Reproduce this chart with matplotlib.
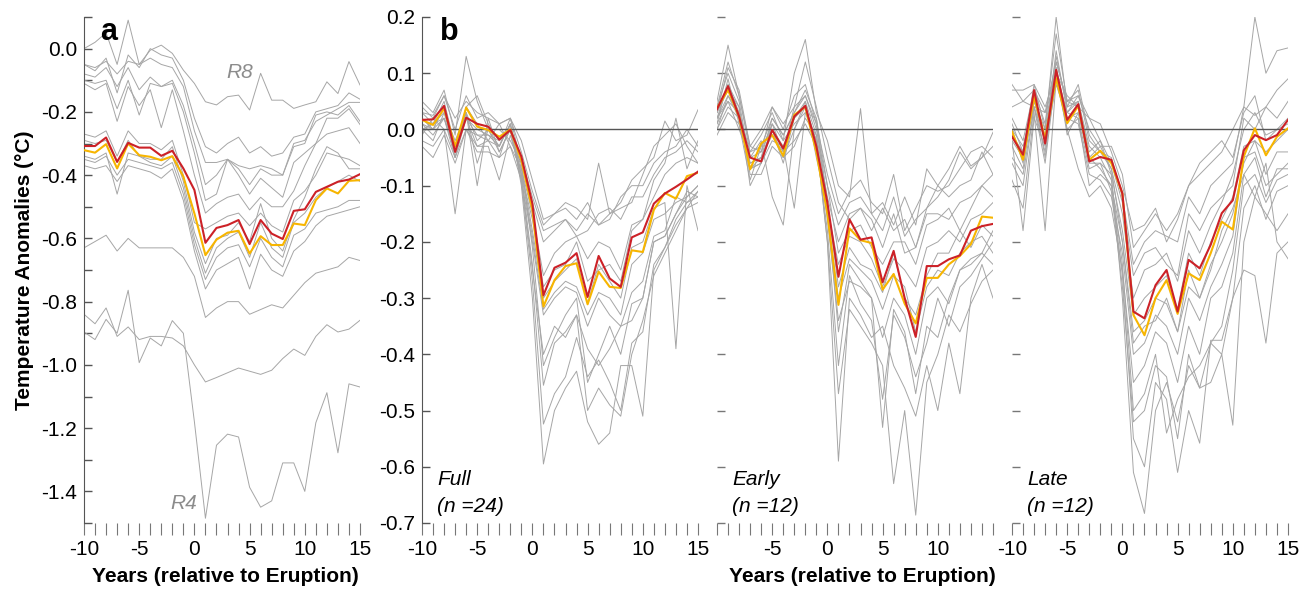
import numpy as np
import matplotlib
matplotlib.use("Agg")
import matplotlib.pyplot as plt
from matplotlib.ticker import MultipleLocator

plt.rcParams['font.family'] = ['Liberation Sans', 'DejaVu Sans']
plt.rcParams['axes.unicode_minus'] = False

years = list(range(-10, 16))

# ---- panel a: individual reconstructions (absolute anomalies) ----
a_grey = [
    [-0.00, 0.02, 0.05, -0.05, 0.09, -0.05, -0.005, 0.011, -0.015, -0.068, -0.11, -0.168, -0.178, -0.152, -0.147, -0.194, -0.078, -0.163, -0.163, -0.189, -0.178, -0.168, -0.105, -0.142, -0.041, -0.115],
    [-0.05, -0.07, -0.03, -0.14, -0.02, -0.06, 0.0, -0.02, -0.03, -0.10, -0.22, -0.31, -0.33, -0.30, -0.28, -0.33, -0.31, -0.34, -0.33, -0.28, -0.27, -0.20, -0.19, -0.18, -0.14, -0.16],
    [-0.08, -0.09, -0.06, -0.12, -0.06, -0.13, -0.09, -0.12, -0.10, -0.18, -0.30, -0.43, -0.40, -0.35, -0.38, -0.43, -0.38, -0.40, -0.40, -0.31, -0.30, -0.21, -0.20, -0.21, -0.18, -0.23],
    [-0.10, -0.11, -0.10, -0.19, -0.10, -0.21, -0.11, -0.12, -0.11, -0.20, -0.33, -0.48, -0.46, -0.35, -0.40, -0.46, -0.41, -0.44, -0.47, -0.36, -0.33, -0.30, -0.22, -0.22, -0.19, -0.24],
    [-0.11, -0.13, -0.11, -0.23, -0.12, -0.18, -0.13, -0.25, -0.13, -0.26, -0.40, -0.52, -0.49, -0.47, -0.46, -0.51, -0.47, -0.50, -0.50, -0.45, -0.37, -0.30, -0.27, -0.26, -0.25, -0.30],
    [-0.05, -0.06, -0.04, -0.08, -0.04, -0.05, -0.03, -0.05, -0.06, -0.12, -0.26, -0.36, -0.36, -0.35, -0.37, -0.38, -0.37, -0.38, -0.40, -0.30, -0.29, -0.23, -0.21, -0.19, -0.17, -0.17],
    [-0.27, -0.28, -0.26, -0.34, -0.26, -0.30, -0.30, -0.32, -0.29, -0.40, -0.55, -0.57, -0.55, -0.53, -0.52, -0.56, -0.52, -0.56, -0.58, -0.48, -0.45, -0.40, -0.33, -0.34, -0.35, -0.37],
    [-0.29, -0.30, -0.29, -0.36, -0.29, -0.34, -0.35, -0.35, -0.31, -0.42, -0.58, -0.68, -0.60, -0.59, -0.55, -0.61, -0.49, -0.60, -0.64, -0.54, -0.47, -0.38, -0.31, -0.33, -0.38, -0.38],
    [-0.34, -0.35, -0.33, -0.46, -0.33, -0.34, -0.36, -0.37, -0.34, -0.44, -0.60, -0.71, -0.63, -0.60, -0.58, -0.66, -0.55, -0.63, -0.66, -0.55, -0.52, -0.47, -0.44, -0.42, -0.40, -0.42],
    [-0.35, -0.36, -0.34, -0.40, -0.35, -0.36, -0.37, -0.38, -0.36, -0.46, -0.62, -0.73, -0.66, -0.63, -0.62, -0.69, -0.60, -0.66, -0.69, -0.59, -0.57, -0.52, -0.51, -0.50, -0.48, -0.48],
    [-0.37, -0.38, -0.37, -0.42, -0.37, -0.38, -0.39, -0.41, -0.38, -0.48, -0.64, -0.76, -0.70, -0.68, -0.66, -0.76, -0.65, -0.70, -0.72, -0.64, -0.61, -0.56, -0.53, -0.52, -0.51, -0.50],
    [-0.63, -0.61, -0.59, -0.64, -0.60, -0.63, -0.63, -0.63, -0.63, -0.66, -0.72, -0.85, -0.82, -0.80, -0.80, -0.84, -0.825, -0.81, -0.82, -0.78, -0.74, -0.71, -0.70, -0.69, -0.66, -0.67],
    [-0.84, -0.87, -0.82, -0.91, -0.88, -0.92, -0.91, -0.91, -0.915, -0.94, -1.00, -1.054, -1.04, -1.025, -1.01, -1.02, -1.03, -1.017, -0.98, -0.95, -0.97, -0.91, -0.873, -0.896, -0.887, -0.859],
    [-0.896, -0.92, -0.856, -0.90, -0.764, -0.993, -0.915, -0.94, -0.86, -0.90, -1.18, -1.485, -1.254, -1.219, -1.228, -1.387, -1.45, -1.43, -1.31, -1.31, -1.40, -1.183, -1.088, -1.278, -1.06, -1.07],
]
a_red = [-0.308, -0.308, -0.281, -0.358, -0.298, -0.313, -0.313, -0.339, -0.323, -0.379, -0.447, -0.614, -0.567, -0.558, -0.542, -0.618, -0.542, -0.585, -0.602, -0.513, -0.508, -0.453, -0.437, -0.421, -0.414, -0.397]
a_orange = [-0.321, -0.329, -0.302, -0.379, -0.300, -0.337, -0.342, -0.353, -0.340, -0.405, -0.521, -0.653, -0.604, -0.582, -0.576, -0.648, -0.593, -0.621, -0.621, -0.553, -0.558, -0.479, -0.442, -0.458, -0.418, -0.416]

# ---- panel b: Full (n=24) ----
full_grey = [
    [0.03, 0.025, 0.06, 0.02, 0.05, 0.03, 0.02, 0.01, 0.02, -0.02, -0.09, -0.16, -0.15, -0.13, -0.14, -0.16, -0.06, -0.15, -0.13, -0.09, -0.07, -0.05, 0.015, -0.02, -0.01, 0.035],
    [0.05, 0.03, 0.07, -0.01, 0.13, 0.05, 0.0, -0.03, 0.02, -0.04, -0.11, -0.17, -0.15, -0.14, -0.16, -0.13, -0.17, -0.15, -0.14, -0.13, -0.08, -0.03, -0.01, 0.01, -0.03, -0.06],
    [0.02, 0.0, 0.04, -0.05, 0.04, 0.06, 0.01, -0.02, 0.0, -0.05, -0.12, -0.18, -0.17, -0.16, -0.18, -0.15, -0.17, -0.16, -0.12, -0.10, -0.10, -0.06, -0.04, -0.03, 0.0, -0.03],
    [0.0, 0.01, 0.03, -0.02, 0.03, -0.06, 0.0, 0.0, -0.02, -0.06, -0.13, -0.20, -0.18, -0.16, -0.19, -0.18, -0.15, -0.14, -0.16, -0.12, -0.12, -0.08, -0.05, -0.04, -0.02, -0.04],
    [-0.01, 0.02, 0.0, -0.15, 0.0, -0.03, -0.02, 0.01, -0.03, -0.07, -0.15, -0.26, -0.22, -0.20, -0.19, -0.23, -0.20, -0.21, -0.25, -0.17, -0.16, -0.09, -0.06, 0.02, -0.07, -0.02],
    [0.03, 0.01, 0.05, -0.03, 0.03, -0.10, 0.02, -0.04, 0.0, -0.08, -0.16, -0.28, -0.25, -0.24, -0.20, -0.27, -0.25, -0.24, -0.27, -0.18, -0.16, -0.12, -0.08, -0.06, -0.05, -0.06],
    [0.01, 0.0, 0.02, -0.04, 0.04, 0.01, -0.02, -0.05, 0.01, -0.07, -0.18, -0.30, -0.27, -0.25, -0.23, -0.31, -0.24, -0.27, -0.30, -0.21, -0.20, -0.14, -0.13, -0.39, -0.10, -0.18],
    [-0.02, -0.03, 0.0, -0.05, 0.02, -0.03, -0.03, -0.09, -0.01, -0.08, -0.19, -0.32, -0.29, -0.27, -0.28, -0.33, -0.29, -0.30, -0.33, -0.24, -0.22, -0.16, -0.15, -0.13, -0.12, -0.10],
    [-0.03, -0.05, -0.01, -0.06, 0.0, -0.04, -0.04, -0.05, -0.03, -0.09, -0.20, -0.33, -0.30, -0.28, -0.29, -0.35, -0.30, -0.33, -0.35, -0.29, -0.27, -0.19, -0.18, -0.12, -0.13, -0.11],
    [0.04, 0.02, 0.06, 0.0, 0.06, 0.02, 0.03, 0.01, 0.02, -0.06, -0.21, -0.42, -0.37, -0.33, -0.30, -0.45, -0.40, -0.35, -0.40, -0.31, -0.30, -0.20, -0.19, -0.15, -0.11, -0.12],
    [0.02, 0.0, 0.04, -0.03, 0.02, 0.0, -0.01, -0.03, 0.01, -0.08, -0.24, -0.455, -0.38, -0.36, -0.33, -0.39, -0.42, -0.39, -0.35, -0.34, -0.30, -0.20, -0.19, -0.15, -0.12, -0.10],
    [0.0, -0.02, 0.03, -0.04, 0.03, -0.02, 0.0, -0.04, 0.0, -0.09, -0.27, -0.524, -0.47, -0.44, -0.37, -0.44, -0.41, -0.45, -0.50, -0.38, -0.36, -0.24, -0.21, -0.17, -0.14, -0.11],
    [0.01, -0.01, 0.02, -0.05, 0.0, -0.01, -0.02, -0.03, 0.01, -0.10, -0.30, -0.595, -0.50, -0.46, -0.43, -0.52, -0.56, -0.54, -0.42, -0.42, -0.51, -0.25, -0.21, -0.16, -0.13, -0.12],
    [0.0, 0.01, 0.02, -0.03, 0.02, -0.01, -0.01, -0.02, 0.0, -0.09, -0.25, -0.40, -0.35, -0.37, -0.33, -0.50, -0.46, -0.49, -0.51, -0.40, -0.34, -0.26, -0.22, -0.18, -0.14, -0.13],
]
full_red = [0.017, 0.018, 0.042, -0.040, 0.021, 0.010, 0.005, -0.018, -0.001, -0.048, -0.132, -0.295, -0.246, -0.237, -0.220, -0.298, -0.225, -0.265, -0.280, -0.192, -0.183, -0.132, -0.114, -0.102, -0.089, -0.075]
full_orange = [0.017, 0.008, 0.037, -0.030, 0.039, 0.005, -0.001, -0.013, 0.0, -0.055, -0.143, -0.315, -0.268, -0.243, -0.238, -0.311, -0.253, -0.280, -0.282, -0.215, -0.218, -0.143, -0.113, -0.123, -0.083, -0.077]

# ---- panel b: Early (n=12) ----
early_grey = [
    [0.05, 0.15, 0.06, -0.04, -0.01, 0.03, -0.02, 0.10, 0.16, 0.03, -0.02, -0.10, -0.12, 0.037, -0.15, -0.13, -0.17, -0.12, -0.17, -0.07, -0.10, -0.07, -0.03, -0.065, -0.05, -0.005],
    [0.03, 0.11, 0.07, -0.03, -0.04, 0.04, 0.0, 0.06, 0.08, 0.01, -0.08, -0.15, -0.11, -0.09, -0.13, -0.15, -0.08, -0.18, -0.14, -0.10, -0.11, -0.10, -0.07, -0.04, -0.03, -0.05],
    [0.02, 0.08, 0.04, -0.07, -0.06, 0.01, -0.04, 0.04, 0.06, 0.0, -0.10, -0.17, -0.13, -0.12, -0.15, -0.18, -0.12, -0.19, -0.16, -0.14, -0.10, -0.12, -0.10, -0.09, -0.04, -0.08],
    [0.0, 0.06, 0.03, -0.08, -0.08, -0.03, -0.05, 0.0, 0.05, -0.01, -0.12, -0.20, -0.15, -0.14, -0.16, -0.21, -0.15, -0.22, -0.21, -0.15, -0.15, -0.16, -0.13, -0.12, -0.10, -0.12],
    [0.04, 0.10, 0.05, -0.06, -0.05, 0.02, -0.01, 0.03, 0.07, 0.02, -0.10, -0.22, -0.18, -0.17, -0.21, -0.24, -0.20, -0.20, -0.24, -0.17, -0.16, -0.14, -0.18, -0.14, -0.10, -0.08],
    [0.01, 0.09, 0.01, -0.09, -0.03, 0.0, -0.06, 0.02, 0.05, -0.05, -0.14, -0.24, -0.19, -0.20, -0.23, -0.28, -0.23, -0.25, -0.28, -0.21, -0.20, -0.18, -0.20, -0.16, -0.15, -0.13],
    [0.03, 0.07, 0.04, -0.10, -0.06, -0.02, -0.03, -0.14, 0.03, 0.02, -0.13, -0.28, -0.21, -0.24, -0.25, -0.29, -0.22, -0.30, -0.33, -0.26, -0.22, -0.22, -0.18, -0.21, -0.17, -0.19],
    [0.02, 0.05, 0.0, -0.05, -0.02, -0.12, -0.17, 0.0, 0.04, -0.02, -0.15, -0.30, -0.23, -0.25, -0.27, -0.32, -0.26, -0.28, -0.36, -0.28, -0.25, -0.26, -0.22, -0.20, -0.19, -0.22],
    [0.0, 0.04, 0.02, -0.07, -0.06, 0.0, -0.05, -0.03, 0.02, -0.01, -0.16, -0.34, -0.27, -0.28, -0.30, -0.37, -0.30, -0.33, -0.40, -0.30, -0.28, -0.31, -0.25, -0.24, -0.22, -0.24],
    [-0.01, 0.03, 0.01, -0.06, -0.05, -0.01, -0.04, -0.02, 0.01, -0.03, -0.18, -0.42, -0.26, -0.31, -0.34, -0.48, -0.33, -0.37, -0.44, -0.38, -0.30, -0.35, -0.28, -0.26, -0.23, -0.20],
    [0.02, 0.06, 0.02, -0.05, -0.04, 0.01, -0.02, 0.01, 0.03, -0.02, -0.20, -0.59, -0.30, -0.33, -0.37, -0.35, -0.42, -0.46, -0.51, -0.42, -0.50, -0.38, -0.47, -0.30, -0.24, -0.30],
    [0.01, 0.05, 0.03, -0.07, -0.05, 0.0, -0.03, 0.02, 0.04, -0.02, -0.20, -0.47, -0.32, -0.35, -0.38, -0.42, -0.63, -0.50, -0.686, -0.45, -0.40, -0.33, -0.36, -0.31, -0.27, -0.25],
    [0.03, 0.08, 0.03, -0.04, -0.03, 0.02, -0.01, 0.03, 0.06, 0.01, -0.14, -0.36, -0.24, -0.27, -0.30, -0.53, -0.32, -0.36, -0.47, -0.35, -0.37, -0.30, -0.25, -0.23, -0.22, -0.18],
    [0.04, 0.12, 0.06, -0.03, 0.0, 0.04, 0.01, 0.04, 0.12, 0.04, -0.05, -0.13, -0.16, -0.14, -0.18, -0.14, -0.18, -0.16, -0.21, -0.14, -0.12, -0.09, -0.04, -0.07, -0.05, -0.03],
]
early_red = [0.036, 0.077, 0.023, -0.050, -0.057, -0.001, -0.034, 0.023, 0.042, -0.030, -0.130, -0.262, -0.160, -0.196, -0.192, -0.272, -0.216, -0.300, -0.369, -0.243, -0.243, -0.231, -0.224, -0.180, -0.172, -0.168]
early_orange = [0.038, 0.070, 0.023, -0.071, -0.025, -0.010, -0.047, 0.026, 0.040, -0.040, -0.150, -0.312, -0.176, -0.197, -0.202, -0.285, -0.257, -0.310, -0.345, -0.264, -0.264, -0.240, -0.225, -0.204, -0.155, -0.157]

# ---- panel b: Late (n=12) ----
late_grey = [
    [0.04, 0.05, 0.04, 0.03, 0.12, 0.05, 0.06, 0.0, -0.03, -0.03, -0.08, -0.21, -0.18, -0.15, -0.18, -0.15, -0.10, -0.08, -0.06, -0.04, 0.0, 0.04, 0.20, 0.10, 0.14, 0.145],
    [0.01, -0.04, 0.08, 0.0, 0.20, 0.04, 0.08, -0.01, -0.04, -0.05, -0.12, -0.24, -0.20, -0.18, -0.19, -0.20, -0.12, -0.15, -0.10, -0.08, -0.06, 0.04, 0.025, 0.04, 0.07, 0.09],
    [-0.02, -0.05, 0.06, -0.02, 0.14, 0.03, 0.05, -0.04, -0.02, -0.06, -0.13, -0.26, -0.22, -0.21, -0.24, -0.26, -0.15, -0.18, -0.14, -0.12, -0.10, 0.02, 0.0, 0.04, 0.02, 0.05],
    [0.0, -0.06, 0.05, -0.01, 0.12, 0.05, 0.04, -0.05, -0.03, -0.07, -0.15, -0.30, -0.25, -0.24, -0.22, -0.27, -0.18, -0.22, -0.17, -0.13, -0.08, 0.0, 0.03, -0.01, 0.0, 0.01],
    [-0.05, -0.08, 0.04, -0.04, 0.11, -0.01, 0.03, -0.06, -0.06, -0.08, -0.18, -0.33, -0.30, -0.28, -0.26, -0.32, -0.22, -0.26, -0.20, -0.16, -0.12, -0.03, -0.02, -0.04, -0.02, 0.0],
    [-0.09, -0.14, 0.03, -0.18, 0.09, 0.0, 0.02, -0.10, -0.08, -0.10, -0.20, -0.36, -0.34, -0.30, -0.31, -0.36, -0.25, -0.30, -0.24, -0.20, -0.15, -0.06, -0.02, -0.08, -0.04, -0.04],
    [-0.02, -0.18, 0.02, -0.03, 0.08, 0.02, 0.01, -0.08, -0.09, -0.12, -0.22, -0.40, -0.38, -0.33, -0.35, -0.40, -0.30, -0.34, -0.28, -0.24, -0.19, -0.05, -0.04, -0.10, -0.08, -0.06],
    [-0.06, -0.10, 0.04, -0.06, 0.10, 0.0, -0.07, -0.12, -0.10, -0.14, -0.25, -0.45, -0.42, -0.36, -0.38, -0.45, -0.35, -0.40, -0.30, -0.28, -0.22, -0.08, -0.05, -0.12, -0.07, -0.07],
    [0.0, -0.03, 0.05, 0.0, 0.13, 0.04, 0.05, -0.03, -0.05, -0.09, -0.24, -0.50, -0.47, -0.40, -0.54, -0.48, -0.44, -0.42, -0.38, -0.35, -0.25, -0.10, -0.08, -0.13, -0.09, -0.08],
    [-0.03, -0.07, 0.06, -0.05, 0.11, 0.02, 0.03, -0.05, -0.07, -0.10, -0.26, -0.55, -0.60, -0.45, -0.48, -0.61, -0.50, -0.558, -0.375, -0.375, -0.30, -0.14, -0.10, -0.16, -0.11, -0.10],
    [0.07, 0.07, 0.08, 0.04, 0.10, 0.06, 0.04, 0.02, -0.02, -0.08, -0.30, -0.61, -0.683, -0.50, -0.45, -0.52, -0.42, -0.46, -0.45, -0.40, -0.526, -0.20, -0.12, -0.15, -0.18, -0.15],
    [-0.01, -0.04, 0.04, -0.02, 0.10, 0.03, 0.02, -0.07, -0.06, -0.11, -0.28, -0.52, -0.50, -0.42, -0.44, -0.55, -0.40, -0.46, -0.38, -0.40, -0.30, -0.25, -0.26, -0.38, -0.22, -0.20],
    [0.02, -0.02, 0.07, 0.01, 0.17, 0.05, 0.07, -0.02, -0.04, -0.07, -0.20, -0.38, -0.35, -0.34, -0.30, -0.36, -0.28, -0.30, -0.25, -0.18, -0.14, -0.08, -0.12, -0.06, -0.20, -0.23],
    [0.08, 0.05, 0.07, 0.03, 0.09, 0.03, 0.06, 0.02, 0.01, -0.04, -0.10, -0.18, -0.17, -0.14, -0.20, -0.16, -0.10, -0.06, -0.04, -0.02, -0.05, 0.03, 0.06, -0.02, 0.0, 0.02],
]
late_red = [-0.013, -0.045, 0.070, -0.025, 0.106, 0.017, 0.045, -0.057, -0.049, -0.054, -0.114, -0.324, -0.336, -0.277, -0.250, -0.324, -0.232, -0.247, -0.205, -0.149, -0.126, -0.037, -0.010, -0.019, -0.010, 0.017]
late_orange = [-0.004, -0.054, 0.058, -0.016, 0.091, 0.011, 0.042, -0.054, -0.038, -0.060, -0.114, -0.330, -0.366, -0.300, -0.268, -0.328, -0.256, -0.268, -0.220, -0.164, -0.178, -0.048, 0.002, -0.046, -0.013, 0.002]

subset_names = ['Full', 'Early', 'Late']
subset_counts = [24, 12, 12]

GREY = '#a6a6a6'
RED = '#cc2127'
ORANGE = '#f7b500'
AXCOL = '#555555'
FS = 15

W, H = 1314, 590
fig = plt.figure(figsize=(W / 100, H / 100), dpi=100)


def add_axes(left_px, width_px=276, top_px=17, bottom_px=523):
    return fig.add_axes([left_px / W, 1 - bottom_px / H, width_px / W, (bottom_px - top_px) / H])


def style_axes(ax, show_left=True):
    for s in ['top', 'right', 'bottom']:
        ax.spines[s].set_visible(False)
    ax.spines['left'].set_visible(show_left)
    ax.spines['left'].set_color(AXCOL)
    ax.set_xlim(-10, 15)
    ax.set_xticks(years)
    ax.set_xticklabels([str(y) if y % 5 == 0 else '' for y in years])
    ax.tick_params(axis='x', direction='out', length=8.5, width=0.8, color='#777777',
                   labelsize=FS, pad=4)
    ax.tick_params(axis='y', which='both', direction='in', length=6, width=1,
                   color=AXCOL, labelsize=FS, pad=5)


def draw_lines(ax, grey, red, orange):
    for g in grey:
        ax.plot(years, g, color=GREY, lw=0.7, zorder=2)
    ax.plot(years, orange, color=ORANGE, lw=1.5, zorder=4)
    ax.plot(years, red, color=RED, lw=1.5, zorder=5)


# panel a
ax_a = add_axes(84)
draw_lines(ax_a, a_grey, a_red, a_orange)
ax_a.set_ylim(-1.5, 0.1)
style_axes(ax_a)
yt = np.round(np.arange(-1.4, 0.01, 0.2), 1)
ax_a.set_yticks(yt)
ax_a.set_yticklabels([f'{v:.1f}' if v != 0 else '0.0' for v in yt])
ax_a.yaxis.set_minor_locator(MultipleLocator(0.1))
ax_a.set_ylabel('Temperature Anomalies (°C)', fontsize=FS, fontweight='bold', labelpad=5)
ax_a.text(-7.8, 0.053, 'a', fontsize=22, fontweight='bold', va='center', ha='center')
ax_a.text(4.1, -0.074, 'R8', fontsize=FS, style='italic', color='#8c8c8c', ha='center', va='center')
ax_a.text(-1.0, -1.438, 'R4', fontsize=FS, style='italic', color='#8c8c8c', ha='center', va='center')
fig.text(225 / W, 1 - 577 / H, 'Years (relative to Eruption)', fontsize=FS,
         fontweight='bold', ha='center', va='center')

# panel b
b_data = [(full_grey, full_red, full_orange),
          (early_grey, early_red, early_orange),
          (late_grey, late_red, late_orange)]
b_left = [422, 717, 1012]
yt_b = np.round(np.arange(-0.7, 0.21, 0.1), 1)
for i, (name, n) in enumerate(zip(subset_names, subset_counts)):
    ax = add_axes(b_left[i])
    grey, red, orange = b_data[i]
    ax.axhline(0, color='#555555', lw=1, zorder=3)
    draw_lines(ax, grey, red, orange)
    ax.set_ylim(-0.7, 0.2)
    style_axes(ax, show_left=(i == 0))
    ax.set_yticks(yt_b)
    if i == 0:
        ax.set_yticklabels([f'{v:.1f}' if v != 0 else '0.0' for v in yt_b])
        ax.text(-7.55, 0.173, 'b', fontsize=22, fontweight='bold', va='center', ha='center')
    else:
        ax.tick_params(axis='y', labelleft=False, color='#777777')
    if i == 1:
        ax.set_xticklabels([str(y) if y % 5 == 0 and y not in (-10, 15) else '' for y in years])
    ax.text(-8.6, -0.647, f'{name}\n(n ={n})', fontsize=FS, style='italic',
            ha='left', va='center', linespacing=1.5)

fig.text(862 / W, 1 - 577 / H, 'Years (relative to Eruption)', fontsize=FS,
         fontweight='bold', ha='center', va='center')

fig.savefig('out.png', dpi=100)
